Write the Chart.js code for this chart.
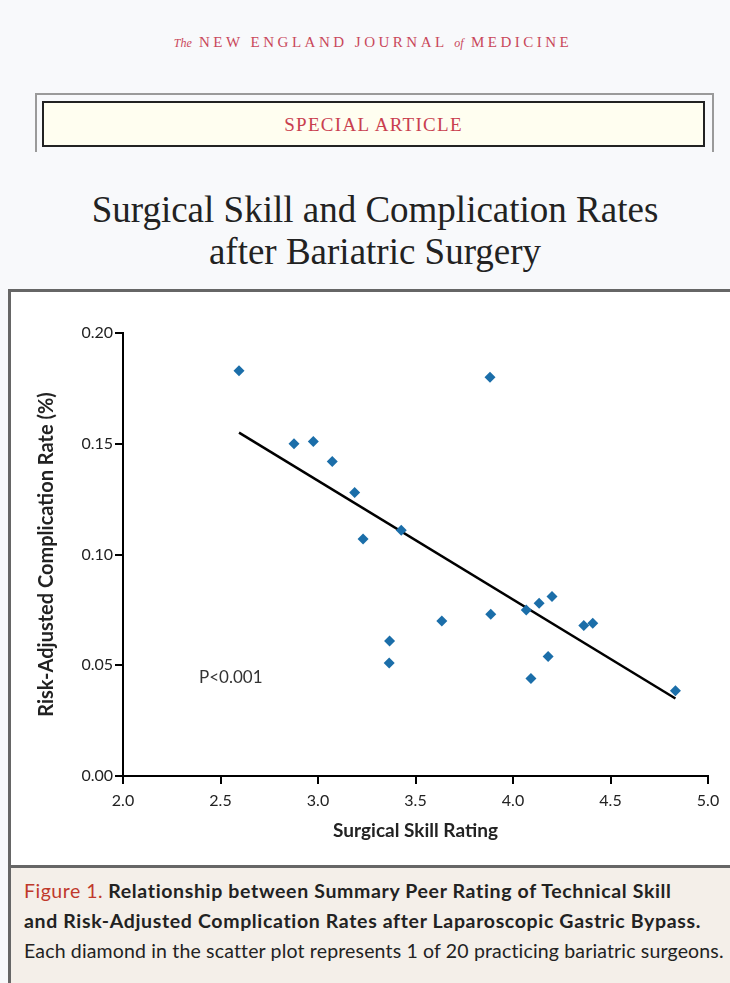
<!DOCTYPE html>
<html>
<head>
<meta charset="utf-8">
<script src="https://cdn.jsdelivr.net/npm/chart.js@4"></script>
<style>
  html, body { margin: 0; padding: 0; }
  body {
    width: 730px; height: 983px; position: relative; overflow: hidden;
    background: #f8f9fb; font-family: Lato, "Open Sans", sans-serif;
  }
  .journal {
    position: absolute; top: 34px; left: 8px; width: 730px; text-align: center;
    font-family: "Liberation Serif", serif; font-size: 15px; letter-spacing: 3.5px;
    color: #c9475a;
  }
  .journal i { font-size: 12px; letter-spacing: 0; }
  .outerbox {
    position: absolute; left: 35px; top: 93px; width: 675px; height: 57px;
    border: 2px solid #9a9a9a; border-bottom: none;
  }
  .innerbox {
    position: absolute; left: 42px; top: 101px; width: 659px; height: 42px;
    border: 2px solid #222; background: #fffef0;
    text-align: center; line-height: 44px;
    font-family: "Liberation Serif", serif; font-size: 19px; letter-spacing: 1.3px;
    color: #c9404f;
  }
  .title {
    position: absolute; top: 189px; left: 10px; width: 730px; text-align: center;
    font-family: "Liberation Serif", serif; font-size: 37px; line-height: 42px;
    color: #222;
  }
  .panel {
    position: absolute; left: 8px; top: 289px; width: 730px; height: 700px;
    border-top: 3px solid #666; border-left: 3px solid #666; background: #fff;
  }
  .caption {
    position: absolute; left: 8px; top: 865px; width: 730px; height: 130px;
    border-top: 3px solid #666; border-left: 3px solid #666; background: #f4efe9;
  }
  .caption p {
    margin: 0; position: absolute; left: 13px; top: 8px; width: 720px;
    font-size: 19.5px; line-height: 30px; color: #222; white-space: nowrap;
    letter-spacing: 0.16px;
  }
  .caption b { font-weight: 700; letter-spacing: 0.65px; }
  .caption .fig { color: #c0392b; font-weight: 400; letter-spacing: 0.5px; }
  #chartBox { position: absolute; left: 0; top: 290px; width: 730px; height: 576px; }
</style>
</head>
<body>
<div class="journal"><i>The</i> NEW ENGLAND JOURNAL <i>of</i> MEDICINE</div>
<div class="outerbox"></div>
<div class="innerbox">SPECIAL ARTICLE</div>
<div class="title">Surgical Skill and Complication Rates<br>after Bariatric Surgery</div>
<div class="panel"></div>
<div class="caption"><p><span class="fig">Figure 1.</span> <b>Relationship between Summary Peer Rating of Technical Skill<br>and Risk-Adjusted Complication Rates after Laparoscopic Gastric Bypass.</b><br>Each diamond in the scatter plot represents 1 of 20 practicing bariatric surgeons.</p></div>
<div id="chartBox"><canvas id="chart" width="730" height="576"></canvas></div>

<script>
// surgeon data
const skillRating = [2.595, 2.877, 2.976, 3.073, 3.188, 3.231, 3.427, 3.367, 3.365, 3.635,
                     3.882, 3.886, 4.068, 4.134, 4.200, 4.092, 4.180, 4.363, 4.409, 4.833];
const complicationRate = [0.183, 0.150, 0.151, 0.142, 0.128, 0.107, 0.111, 0.061, 0.051, 0.070,
                          0.180, 0.073, 0.075, 0.078, 0.081, 0.044, 0.054, 0.068, 0.069, 0.0385];

// fitted line end points
const trendX = [2.595, 4.833];
const trendY = [0.155, 0.035];

const xTicks = [2.0, 2.5, 3.0, 3.5, 4.0, 4.5, 5.0];
const yTicks = [0.00, 0.05, 0.10, 0.15, 0.20];

const pLabel = { text: "P<0.001", x: 2.39, y: 0.0445 };

const points = skillRating.map((x, i) => ({ x: x, y: complicationRate[i] }));
const trend = trendX.map((x, i) => ({ x: x, y: trendY[i] }));

const tickFont = { family: "Lato", size: 16 };

const pValuePlugin = {
    id: "pValue",
    afterDatasetsDraw(chart) {
        const ctx = chart.ctx;
        ctx.save();
        ctx.font = "17px Lato";
        ctx.fillStyle = "#333";
        ctx.textBaseline = "middle";
        ctx.fillText(pLabel.text, chart.scales.x.getPixelForValue(pLabel.x), chart.scales.y.getPixelForValue(pLabel.y));
        ctx.restore();
    }
};

new Chart(document.getElementById("chart"), {
    type: "scatter",
    data: {
        datasets: [
            {
                label: "Surgeons",
                data: points,
                pointStyle: "rectRot",
                pointRadius: 5.5,
                backgroundColor: "#1b6ea9",
                borderColor: "#1b6ea9",
                borderWidth: 0
            },
            {
                type: "line",
                label: "Fit",
                data: trend,
                borderColor: "#000",
                borderWidth: 2.5,
                pointRadius: 0,
                fill: false
            }
        ]
    },
    options: {
        responsive: false,
        animation: false,
        layout: { padding: { top: 43, right: 22, left: 0, bottom: 0 } },
        plugins: { legend: { display: false }, tooltip: { enabled: false } },
        scales: {
            x: {
                type: "linear",
                min: 2, max: 5,
                afterFit: s => { s.height = 90; },
                afterBuildTicks: s => { s.ticks = xTicks.map(v => ({ value: v })); },
                ticks: { color: "#222", font: tickFont, padding: 7, callback: v => v.toFixed(1) },
                grid: { drawOnChartArea: false, drawTicks: true, tickLength: 8, color: "#000", lineWidth: 2 },
                border: { display: true, color: "#000", width: 2 },
                title: {
                    display: true, text: "Surgical Skill Rating", color: "#222",
                    font: { family: "Lato", size: 19, weight: "bold" }, padding: { top: 0, bottom: 24 }
                }
            },
            y: {
                type: "linear",
                min: 0, max: 0.2,
                afterFit: s => { s.width = 123; },
                afterBuildTicks: s => { s.ticks = yTicks.map(v => ({ value: v })); },
                ticks: { color: "#222", font: tickFont, padding: 2, callback: v => v.toFixed(2) },
                grid: { drawOnChartArea: false, drawTicks: true, tickLength: 8, color: "#000", lineWidth: 2 },
                border: { display: true, color: "#000", width: 2 },
                title: {
                    display: true, text: "Risk-Adjusted Complication Rate (%)", color: "#222",
                    font: { family: "Lato", size: 20, weight: "bold" }, padding: { top: 35, bottom: 0 }
                }
            }
        }
    },
    plugins: [pValuePlugin]
});
</script>
</body>
</html>
